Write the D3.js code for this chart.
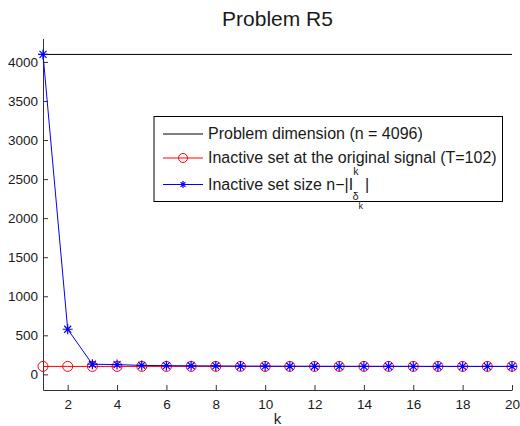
<!DOCTYPE html>
<html>
<head>
<meta charset="utf-8">
<script src="https://cdn.jsdelivr.net/npm/d3@7"></script>
<style>
body { margin: 0; background: #fff; }
text { font-family: "Liberation Sans", Arial, sans-serif; fill: #1a1a1a; }
</style>
</head>
<body>
<script>
var w = 520;
var h = 426;

// data
var ks = d3.range(1, 21);
var dimension = 4096;
var inactiveOrig = [102, 102, 102, 102, 102, 102, 102, 102, 102, 102, 102, 102, 102, 102, 102, 102, 102, 102, 102, 102];
var inactiveSize = [4096, 578, 130, 125, 115, 112, 110, 108, 106, 105, 104, 104, 103, 103, 103, 102, 102, 102, 102, 102];
var xTicks = [2, 4, 6, 8, 10, 12, 14, 16, 18, 20];
var yTicks = [0, 500, 1000, 1500, 2000, 2500, 3000, 3500, 4000];

var svg = d3.select("body")
    .append("svg")
    .attr("width", w)
    .attr("height", h);

var x = d3.scaleLinear().domain([1, 20]).range([43, 512]);
var y = d3.scaleLinear().domain([-200, 4300]).range([390, 38.5]);

// title
svg.append("text")
    .attr("x", 277.5)
    .attr("y", 26)
    .attr("text-anchor", "middle")
    .style("font-size", "21px")
    .text("Problem R5");

// axes (left + bottom only, ticks inward)
var xAxis = svg.append("g")
    .attr("transform", "translate(0,390)")
    .call(d3.axisBottom(x).tickValues(xTicks).tickFormat(d3.format("d"))
        .tickSize(-5).tickSizeOuter(0).tickPadding(9));
var yAxis = svg.append("g")
    .attr("transform", "translate(43,0)")
    .call(d3.axisLeft(y).tickValues(yTicks).tickFormat(d3.format("d"))
        .tickSize(-5).tickSizeOuter(0).tickPadding(5));
[xAxis, yAxis].forEach(function (g) {
    g.select(".domain").attr("stroke", "#333");
    g.selectAll(".tick line").attr("stroke", "#333");
    g.selectAll(".tick text").style("font-size", "13.5px").attr("fill", "#1a1a1a")
        .style("font-family", "'Liberation Sans', Arial, sans-serif");
});

svg.append("text")
    .attr("x", 277.5)
    .attr("y", 424)
    .attr("text-anchor", "middle")
    .style("font-size", "15px")
    .text("k");

var line = d3.line()
    .x((d, i) => x(ks[i]))
    .y(d => y(d));

// problem dimension
svg.append("line")
    .attr("x1", x(1)).attr("x2", x(20))
    .attr("y1", y(dimension)).attr("y2", y(dimension))
    .attr("stroke", "#000").attr("stroke-width", 1);

// red series with circles
svg.append("path")
    .datum(inactiveOrig)
    .attr("d", line)
    .attr("fill", "none")
    .attr("stroke", "#ff0000")
    .attr("stroke-width", 1);
svg.selectAll("circle.red")
    .data(inactiveOrig)
    .enter()
    .append("circle")
    .attr("class", "red")
    .attr("cx", (d, i) => x(ks[i]))
    .attr("cy", d => y(d))
    .attr("r", 5)
    .attr("fill", "none")
    .attr("stroke", "#ff0000")
    .attr("stroke-width", 1);

// blue series with asterisks
function star(g, cx, cy, s) {
    var p = "M" + (cx - s) + "," + cy + "H" + (cx + s)
        + "M" + cx + "," + (cy - s) + "V" + (cy + s)
        + "M" + (cx - s * 0.7) + "," + (cy - s * 0.7) + "L" + (cx + s * 0.7) + "," + (cy + s * 0.7)
        + "M" + (cx - s * 0.7) + "," + (cy + s * 0.7) + "L" + (cx + s * 0.7) + "," + (cy - s * 0.7);
    g.append("path").attr("d", p).attr("stroke", "#0000ff").attr("stroke-width", 1.2).attr("fill", "none");
}
svg.append("path")
    .datum(inactiveSize)
    .attr("d", line)
    .attr("fill", "none")
    .attr("stroke", "#0000ff")
    .attr("stroke-width", 1);
var stars = svg.append("g");
inactiveSize.forEach(function (d, i) {
    star(stars, x(ks[i]), y(d), 5);
});

// legend
var lg = svg.append("g");
lg.append("rect")
    .attr("x", 154).attr("y", 116.5)
    .attr("width", 348.5).attr("height", 85)
    .attr("fill", "#fff").attr("stroke", "#000").attr("stroke-width", 1);

var rows = [
    { y: 134, color: "#000", marker: null },
    { y: 158, color: "#ff0000", marker: "o" },
    { y: 184.5, color: "#0000ff", marker: "*" }
];
rows.forEach(function (r) {
    lg.append("line").attr("x1", 163).attr("x2", 203).attr("y1", r.y).attr("y2", r.y)
        .attr("stroke", r.color).attr("stroke-width", 1);
    if (r.marker == "o") {
        lg.append("circle").attr("cx", 183).attr("cy", r.y).attr("r", 4.5)
            .attr("fill", "none").attr("stroke", r.color);
    } else if (r.marker == "*") {
        star(lg, 183, r.y, 3.5);
    }
});
lg.append("text").attr("x", 208).attr("y", 139).style("font-size", "16px")
    .text("Problem dimension (n = 4096)");
lg.append("text").attr("x", 208).attr("y", 163).style("font-size", "16px")
    .text("Inactive set at the original signal (T=102)");
var t3 = lg.append("text").attr("x", 208).attr("y", 190).style("font-size", "16px");
t3.append("tspan").text("Inactive set size n\u2212|I");
t3.append("tspan").attr("dy", -15).style("font-size", "10.5px").text("k");
t3.append("tspan").attr("dx", -6).attr("dy", 25).style("font-size", "11px").text("\u03b4");
t3.append("tspan").attr("dy", 9).style("font-size", "9px").text("k");
t3.append("tspan").attr("x", 365).attr("dy", -19).style("font-size", "16px").text("|");
</script>
</body>
</html>
